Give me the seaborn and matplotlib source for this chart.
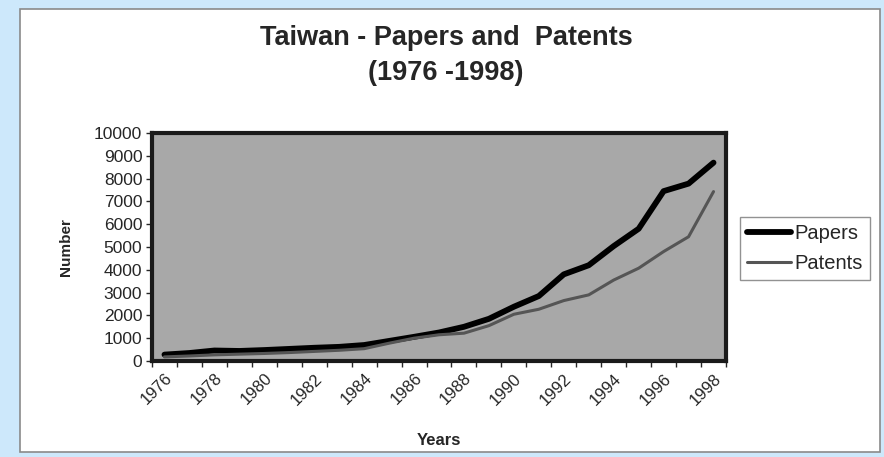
import matplotlib
matplotlib.use("Agg")
import matplotlib.pyplot as plt
from matplotlib.patches import Rectangle
import pandas as pd
import seaborn as sns

# data
years = list(range(1976, 1999))
papers = [280, 350, 460, 440, 480, 530, 580, 620, 700, 880, 1060, 1250, 1500,
          1850, 2380, 2850, 3800, 4200, 5040, 5800, 7450, 7780, 8700]
patents = [180, 220, 270, 300, 330, 370, 420, 470, 540, 780, 1000, 1150, 1220,
           1550, 2050, 2270, 2650, 2900, 3550, 4070, 4800, 5450, 7430]
year_labels = [str(y) if (y - 1976) % 2 == 0 else "" for y in years]

df = pd.DataFrame({
    "pos": list(range(len(years))) * 2,
    "value": papers + patents,
    "series": ["Papers"] * len(years) + ["Patents"] * len(years),
})

sns.set_style("white")
plt.rcParams["font.family"] = ["Liberation Sans", "DejaVu Sans"]

fig = plt.figure(figsize=(8.84, 4.57), dpi=100)
fig.patch.set_facecolor("#cde8fb")
# white panel with thin grey border
fig.patches.append(Rectangle((20 / 884, 5 / 457), 860 / 884, 443 / 457,
                             transform=fig.transFigure, facecolor="white",
                             edgecolor="#8a8a8a", linewidth=1.2, zorder=-10))

ax = fig.add_axes([152 / 884, 1 - 361 / 457, 574 / 884, 228 / 457])
ax.set_facecolor("#a8a8a8")

sns.lineplot(data=df, x="pos", y="value", hue="series",
             palette={"Papers": "black", "Patents": "#555555"},
             size="series", sizes={"Papers": 4.2, "Patents": 2.2},
             legend=False, ax=ax)

ax.set_xlim(-0.5, len(years) - 0.5)
ax.set_ylim(0, 10000)
ax.set_yticks(range(0, 10001, 1000))
ax.tick_params(axis="y", labelsize=12.5, length=4, width=1, direction="out", left=True, pad=3)

ax.set_xticks(range(len(years)))
ax.set_xticklabels(year_labels, rotation=45, ha="right", rotation_mode="anchor", fontsize=12)
ax.set_xticks([i - 0.5 for i in range(len(years) + 1)], minor=True)
ax.tick_params(axis="x", which="major", length=0, pad=7)
ax.tick_params(axis="x", which="minor", length=4, width=1, direction="out", bottom=True)

for sp in ax.spines.values():
    sp.set_visible(True)
    sp.set_color("#1a1a1a")
    sp.set_linewidth(3)

ax.set_xlabel("Years", fontsize=12, fontweight="bold", labelpad=18)
ax.set_ylabel("Number", fontsize=11, fontweight="bold", labelpad=15)

fig.text(446 / 884, 1 - 38 / 457, "Taiwan - Papers and  Patents", ha="center",
         va="center", fontsize=19.5, fontweight="bold")
fig.text(446 / 884, 1 - 73 / 457, "(1976 -1998)", ha="center",
         va="center", fontsize=19.5, fontweight="bold")

handles = [plt.Line2D([], [], color="black", lw=4.2),
           plt.Line2D([], [], color="#555555", lw=2.2)]
leg = fig.legend(handles, ["Papers", "Patents"], loc="upper left",
                 bbox_to_anchor=(740 / 884, 1 - 217 / 457), fontsize=14.5,
                 frameon=True, fancybox=False, handlelength=2.2,
                 handletextpad=0.15, borderpad=0.35, labelspacing=0.55,
                 borderaxespad=0)
leg.get_frame().set_edgecolor("#777777")
leg.get_frame().set_linewidth(1)

fig.savefig("out.png", dpi=100, facecolor=fig.get_facecolor())
